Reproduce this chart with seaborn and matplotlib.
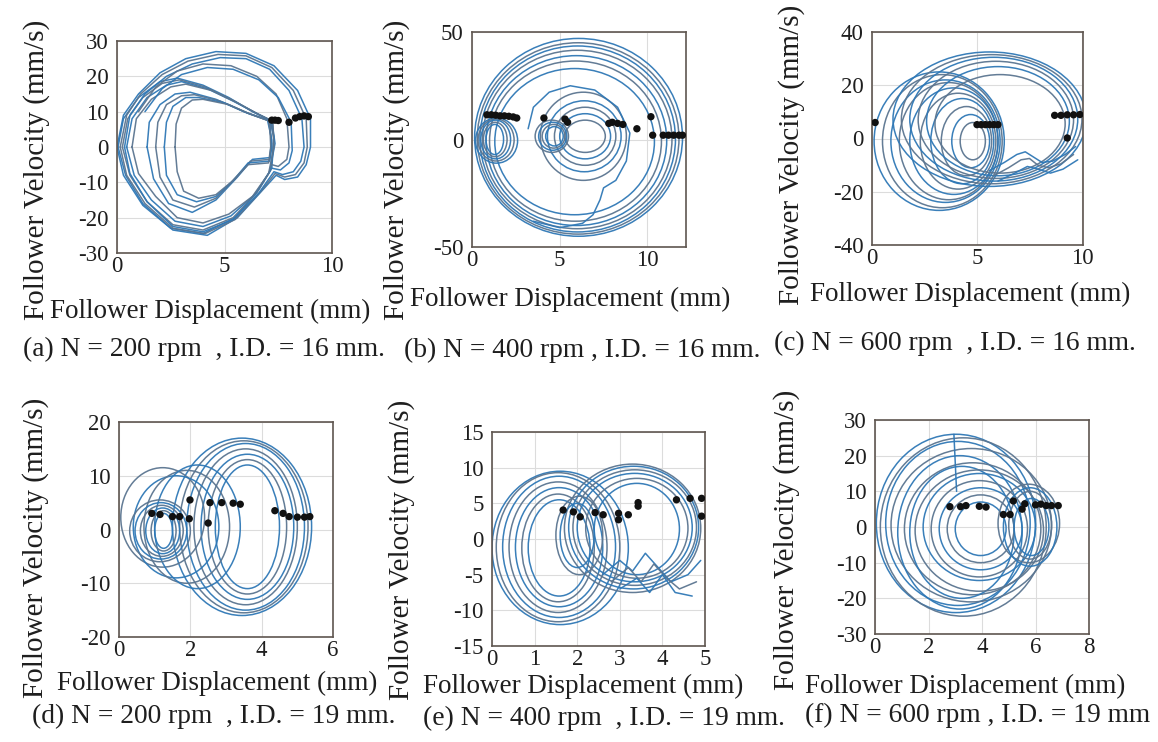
import numpy as np
import pandas as pd
import matplotlib
matplotlib.use("Agg")
import matplotlib.pyplot as plt
from matplotlib.patches import Ellipse
import seaborn as sns

# ---------------- data ----------------
# Loops given by their extents (x_min, x_max, y_min, y_max)
a_dots_x = [7.2, 7.35, 7.5, 8.0, 8.3, 8.5, 8.7, 8.9]
a_dots_y = [7.6, 7.6, 7.5, 7.0, 8.2, 8.6, 8.8, 8.6]
a_paths = [
    [(0.05,0),(0.3,8),(1.0,14),(2.0,18.5),(2.8,19.5),(4.0,17.5),(5.2,14),(6.3,10),(7.1,7.6),(7.3,3),(7.2,-6),(6.6,-12),(5.5,-20),(4.0,-24.5),(2.5,-23),(1.2,-16),(0.4,-8),(0.05,0)],
    [(0.25,0),(0.5,8),(1.2,14),(2.1,18),(2.9,19),(4.1,17),(5.3,13.5),(6.4,9.8),(7.15,7.5),(7.3,2),(7.15,-6.5),(6.5,-13),(5.4,-20),(4.0,-23.5),(2.6,-22),(1.4,-15.5),(0.6,-8),(0.25,0)],
    [(0.45,0),(0.7,8),(1.4,14),(2.3,17.5),(3.0,18.5),(4.2,16.5),(5.4,13),(6.5,9.5),(7.2,7.4),(7.35,1),(7.1,-7),(6.4,-13.5),(5.3,-19.5),(4.0,-22.5),(2.7,-21),(1.6,-15),(0.8,-8),(0.45,0)],
    [(0.7,0),(0.9,8),(1.6,13.5),(2.5,17),(3.2,17.8),(4.4,16),(5.6,12.5),(6.6,9.2),(7.25,7.3),(7.3,0),(7.05,-7.5),(6.3,-14),(5.2,-19),(4.0,-21.5),(2.8,-20),(1.8,-14),(1.0,-7.5),(0.7,0)],
    [(1.4,0),(1.5,7),(2.0,12),(2.7,15),(3.4,15.5),(4.6,13.5),(5.9,10),(7.0,7.6),(7.2,2),(7.1,-3),(6.3,-3.5),(5.6,-8.5),(4.6,-15),(3.5,-18.5),(2.4,-16),(1.7,-9),(1.4,0)],
    [(1.8,0),(1.9,7),(2.3,12),(3.0,14.5),(3.6,14.8),(4.8,13),(6.0,9.8),(7.05,7.5),(7.2,1),(7.1,-3.5),(6.2,-4),(5.5,-9),(4.6,-14.5),(3.6,-17),(2.6,-15),(2.0,-8.5),(1.8,0)],
    [(2.2,0),(2.3,7),(2.6,11.5),(3.2,14),(3.8,14),(5.0,12.5),(6.1,9.5),(7.1,7.4),(7.2,0),(7.1,-4),(6.1,-4.5),(5.4,-9.5),(4.6,-14),(3.7,-15.5),(2.8,-13.5),(2.3,-8),(2.2,0)],
    [(2.7,0),(2.75,6.5),(3.0,11),(3.5,13.3),(4.0,13.5),(5.2,12),(6.2,9.3),(7.1,7.3),(7.15,0),(7.05,-4.5),(6.1,-5),(5.3,-10),(4.6,-13.5),(3.8,-14.5),(3.1,-12.5),(2.8,-7),(2.7,0)],
    [(0.0,0),(0.3,9),(1.0,15),(2.0,21),(3.2,25),(4.6,27),(6.0,26.5),(7.3,23),(8.4,16),(9.0,8),(9.0,0),(8.8,-5),(8.4,-8.5),(7.8,-9.2),(7.4,-8),(6.8,-12),(5.6,-20),(4.2,-25),(2.6,-23.5),(1.2,-16.5),(0.3,-8),(0.0,0)],
    [(0.15,0),(0.45,9),(1.1,15),(2.1,20.5),(3.3,24.3),(4.7,26.2),(6.0,25.8),(7.2,22.5),(8.2,16),(8.8,8),(8.85,0),(8.7,-4.5),(8.3,-7.8),(7.8,-8.5),(7.35,-7.5),(6.7,-12.5),(5.5,-20.5),(4.1,-24.5),(2.6,-23),(1.3,-16),(0.45,-8),(0.15,0)],
    [(0.35,0),(0.6,9),(1.3,15),(2.3,20),(3.5,23.5),(4.8,25.3),(6.0,25),(7.1,22),(8.0,16),(8.6,8),(8.7,0),(8.55,-4),(8.2,-7),(7.7,-7.8),(7.3,-7),(6.6,-13),(5.4,-20.5),(4.0,-24),(2.6,-22.5),(1.4,-15.5),(0.6,-7.5),(0.35,0)],
    [(1.0,10),(1.8,17),(2.8,21.5),(4.0,23.5),(5.3,23),(6.5,20),(7.4,15),(7.9,8),(8.0,0),(7.9,-3.5),(7.5,-5.5),(7.2,-5)],
    [(1.3,10),(2.1,16.5),(3.0,20.5),(4.2,22.5),(5.4,22),(6.6,19),(7.5,14),(8.1,7),(8.15,-1),(8.0,-4.5),(7.6,-6.5),(7.2,-6)],
]
a_loops = []

b_dots_x = [0.85, 1.1, 1.35, 1.6, 1.85, 2.1, 2.35, 2.55, 4.1, 5.3, 5.45, 7.8, 8.0, 8.3, 8.6, 9.4, 10.2, 10.3, 10.9, 11.2, 11.5, 11.8, 12.0]
b_dots_y = [11.5, 11.5, 11.3, 11.0, 11.0, 10.8, 10.5, 10.0, 10.0, 9.5, 8.0, 7.5, 8.0, 7.5, 7.0, 5.0, 10.6, 2.0, 2.0, 2.0, 2.0, 2.0, 2.0]
b_loops = [
    # big outer loops
    (0.15, 12.0, -45, 47), (0.3, 11.8, -44, 45), (0.45, 11.6, -43, 43.5), (0.6, 11.4, -41.5, 41.5),
    (0.8, 11.1, -40, 39), (1.0, 10.8, -38, 36.5), (1.3, 10.4, -35, 33),
    # central loops
    (5.3, 7.6, -6, 9), (5.0, 7.9, -9, 12), (4.7, 8.2, -12, 15), (4.3, 8.5, -15, 18), (3.9, 8.8, -19, 22),
    # left small loops
    (0.2, 2.6, -11, 10), (0.35, 2.4, -10, 9.5), (0.5, 2.2, -9, 9), (0.65, 2.0, -8, 8), (0.8, 1.8, -7, 7),
    # middle small loops
    (3.6, 5.5, -6, 9), (3.8, 5.4, -5, 8), (4.0, 5.3, -4, 7), (4.2, 5.2, -3, 6),
]
b_paths = [
    [(3.2,5),(3.5,15),(4.4,22),(5.6,25),(7.0,23),(8.3,15),(9.0,3),(8.8,-10),(8.2,-19),(7.5,-22.5),(7.3,-28),(6.9,-35),(6.3,-39),(5.0,-41),(3.5,-38)],
]

c_dots_x = [0.15, 5.0, 5.2, 5.4, 5.6, 5.8, 6.0, 8.7, 9.0, 9.3, 9.6, 9.9, 9.3]
c_dots_y = [6.0, 5.2, 5.2, 5.2, 5.2, 5.2, 5.2, 8.7, 8.7, 8.9, 8.9, 9.0, 0.2]
c_loops = [
    # left family
    (0.1, 6.3, -27, 25), (0.5, 6.2, -26, 24), (0.9, 6.1, -24, 22), (1.3, 6.0, -23, 21), (1.8, 6.0, -21, 19),
    (2.3, 5.9, -19, 17), (2.8, 5.8, -17, 15), (3.3, 5.7, -14, 12), (3.8, 5.6, -11, 9), (4.2, 5.4, -8, 6),
    # right family
    (1.0, 10.2, -18, 32.5), (1.4, 10.0, -17, 31.5), (1.8, 9.8, -16, 30.5), (2.2, 9.6, -15, 29),
    (2.6, 9.4, -14, 27), (3.0, 9.2, -13, 24),
]
c_paths = [
    [(5.6,-12),(6.3,-9),(6.9,-6),(7.3,-5),(7.7,-7),(8.1,-9),(8.6,-8.5),(9.2,-6),(9.7,-3)],
    [(5.8,-14),(6.5,-11),(7.1,-8),(7.5,-7.5),(7.9,-10),(8.4,-11),(9.0,-9.5),(9.6,-6)],
    [(6.0,-16),(6.8,-13),(7.4,-10.5),(7.9,-11.5),(8.5,-13),(9.1,-11.5),(9.8,-8)],
]

d_dots_x = [0.92, 1.15, 1.5, 1.7, 1.97, 2.5, 1.99, 2.55, 2.88, 3.2, 3.4, 4.37, 4.6, 4.77, 5.0, 5.2, 5.35]
d_dots_y = [3.0, 2.8, 2.4, 2.4, 2.0, 1.2, 5.5, 5.0, 5.0, 4.9, 4.7, 3.5, 3.0, 2.4, 2.3, 2.3, 2.4]
d_loops = [
    # big right loops
    (1.5, 5.4, -16, 17), (1.7, 5.3, -15.5, 16.5), (1.9, 5.2, -15, 16), (2.1, 5.0, -14, 15),
    (2.3, 4.9, -13, 14), (2.5, 4.7, -12, 13), (2.7, 4.5, -11, 12),
    # middle loops
    (0.05, 2.4, -7, 11.5), (0.4, 2.8, -9, 10), (0.7, 3.1, -10, 11), (1.0, 3.4, -11, 12),
    # dense small loops
    (0.3, 2.0, -6, 5.5), (0.45, 1.9, -5.5, 5), (0.6, 1.8, -5, 4.5), (0.75, 1.7, -4.5, 4),
    (0.9, 1.6, -4, 3.5), (1.0, 1.5, -3.5, 3),
]
d_paths = []

e_dots_x = [1.67, 1.91, 2.07, 2.42, 2.61, 2.97, 3.2, 2.97, 3.43, 3.43, 4.33, 4.65, 4.92, 4.92]
e_dots_y = [4.06, 3.8, 3.1, 3.7, 3.4, 3.6, 3.4, 2.7, 5.1, 4.6, 5.5, 5.7, 5.7, 3.2]
e_loops = [
    # left family
    (0.0, 3.2, -12, 9.5), (0.1, 3.0, -11.6, 9.3), (0.25, 2.9, -11, 8.8), (0.4, 2.7, -10.3, 8.0),
    (0.55, 2.6, -9.5, 7.2), (0.7, 2.4, -8.8, 6.3), (0.85, 2.3, -8, 5.5),
    # right family
    (1.7, 4.9, -7.5, 10.5), (1.8, 4.85, -7, 10.2), (1.9, 4.8, -6.5, 9.7), (2.0, 4.7, -6, 9.2),
    (2.2, 4.6, -5.5, 8.5), (2.4, 4.4, -5, 7.8),
    # inner small loops
    (1.5, 2.6, -5, 6), (1.6, 2.4, -4, 5),
]
e_paths = [
    [(2.6,-5),(3.0,-3),(3.3,-4.5),(3.6,-2),(3.9,-4),(4.2,-6),(4.6,-5),(4.9,-3)],
    [(2.8,-6),(3.2,-4),(3.5,-6),(3.8,-3.5),(4.1,-5.5),(4.4,-7),(4.8,-6)],
    [(3.0,-7),(3.4,-5.5),(3.7,-7.5),(4.0,-5),(4.3,-7.5),(4.7,-8)],
]

f_dots_x = [2.8, 3.2, 3.4, 3.9, 4.15, 4.8, 5.05, 5.17, 5.5, 5.6, 6.0, 6.2, 6.4, 6.6, 6.85]
f_dots_y = [5.7, 5.7, 6.0, 5.8, 5.6, 3.5, 3.5, 7.3, 5.0, 6.5, 6.2, 6.4, 6.0, 6.0, 6.0]
f_loops = [
    # big loops
    (0.05, 6.0, -24, 26), (0.2, 6.4, -25, 25), (0.4, 5.8, -22, 24), (0.6, 6.6, -21, 22),
    (0.85, 5.5, -23, 20), (1.1, 6.2, -19, 18), (1.3, 5.2, -20, 17),
    # medium loops
    (1.5, 6.3, -18, 16), (1.8, 6.0, -15, 15), (2.1, 5.7, -14, 13), (2.4, 5.5, -12, 11),
    (2.7, 5.2, -10, 9), (3.0, 4.9, -8, 7),
    # right small loops
    (4.6, 6.9, -10, 12), (4.8, 6.8, -11, 11), (5.0, 6.6, -9, 10), (5.2, 6.5, -8, 8),
]
f_paths = [
    [(2.95,26),(3.0,18),(3.05,10)],
]

titles = [
    "(a) N = 200 rpm  , I.D. = 16 mm.",
    "(b) N = 400 rpm , I.D. = 16 mm.",
    "(c) N = 600 rpm  , I.D. = 16 mm.",
    "(d) N = 200 rpm  , I.D. = 19 mm.",
    "(e) N = 400 rpm  , I.D. = 19 mm.",
    "(f) N = 600 rpm , I.D. = 19 mm",
]
x_label = "Follower Displacement (mm)"
y_label = "Follower Velocity (mm/s)"

xlims = [(0, 10), (0, 12.2), (0, 10.05), (0, 6), (0, 5), (0, 8)]
ylims = [(-30, 30), (-50, 50), (-40, 40), (-20, 20), (-15, 15), (-30, 30)]
xticks = [[0, 5, 10], [0, 5, 10], [0, 5, 10], [0, 2, 4, 6], [0, 1, 2, 3, 4, 5], [0, 2, 4, 6, 8]]
yticks = [list(range(-30, 31, 10)), [-50, 0, 50], list(range(-40, 41, 20)),
          list(range(-20, 21, 10)), list(range(-15, 16, 5)), list(range(-30, 31, 10))]

# ---------------- figure ----------------
sns.set_theme(style="whitegrid")
plt.rcParams['font.family'] = ['Liberation Serif', 'DejaVu Serif']
plt.rcParams['axes.unicode_minus'] = False

W, H = 1158, 742
fig = plt.figure(figsize=(W / 100, H / 100), dpi=100)
fig.patch.set_facecolor("white")

# axes boxes in pixels (left, top, right, bottom)
boxes = [(117, 41, 332, 253), (472, 32, 686, 247), (872, 32, 1083, 245),
         (119, 422, 333, 637), (492, 432, 705, 646), (875, 420, 1089, 634)]
ylab_pos = [(37, 170), (397, 170), (792, 155), (36, 548), (402, 550), (787, 540)]
xlab_pos = [(210, 311), (570, 299), (970, 294), (217, 683), (583, 686), (965, 686)]
cap_pos = [(204, 349), (582, 350), (955, 343), (214, 716), (604, 718), (978, 715)]

all_loops = [a_loops, b_loops, c_loops, d_loops, e_loops, f_loops]
all_paths = [a_paths, b_paths, c_paths, d_paths, e_paths, f_paths]
all_dx = [a_dots_x, b_dots_x, c_dots_x, d_dots_x, e_dots_x, f_dots_x]
all_dy = [a_dots_y, b_dots_y, c_dots_y, d_dots_y, e_dots_y, f_dots_y]

line_cols = ["#2f78b6", "#5b7590"]
TXT = "#1e1e1e"

for i in range(6):
    l, t, r, b = boxes[i]
    ax = fig.add_axes([l / W, 1 - b / H, (r - l) / W, (b - t) / H])
    ax.set_facecolor("white")
    # loops
    for k, (x0, x1, y0, y1) in enumerate(all_loops[i]):
        e = Ellipse(((x0 + x1) / 2, (y0 + y1) / 2), x1 - x0, y1 - y0,
                    fill=False, lw=1.1, ec=line_cols[k % 2], alpha=0.95, zorder=2)
        ax.add_patch(e)
    for k, path in enumerate(all_paths[i]):
        df = pd.DataFrame(path, columns=["x", "y"])
        sns.lineplot(data=df, x="x", y="y", sort=False, estimator=None, ax=ax,
                     color=line_cols[k % 2], lw=1.1, alpha=0.95, zorder=2)
    sns.scatterplot(x=all_dx[i], y=all_dy[i], ax=ax, color="#111111", s=28,
                    edgecolor="none", zorder=4)
    ax.set_xlim(*xlims[i])
    ax.set_ylim(*ylims[i])
    ax.set_xticks(xticks[i])
    ax.set_yticks(yticks[i])
    ax.grid(True, color="#dcdcdc", lw=0.8)
    ax.set_axisbelow(True)
    for s in ax.spines.values():
        s.set_color("#5f5650")
        s.set_linewidth(1.2)
    ax.tick_params(axis="both", direction="in", length=3, color="#5f5650",
                   labelsize=16.5, labelcolor=TXT, pad=2)
    ax.tick_params(axis="y", pad=6)
    ax.set_xlabel("")
    ax.set_ylabel("")
    fig.text(xlab_pos[i][0] / W, 1 - xlab_pos[i][1] / H, x_label, ha="center",
             va="center", fontsize=19.5, color=TXT)
    fig.text(ylab_pos[i][0] / W, 1 - ylab_pos[i][1] / H, y_label, ha="center",
             va="center", rotation=90, fontsize=21, color=TXT)
    fig.text(cap_pos[i][0] / W, 1 - cap_pos[i][1] / H, titles[i], ha="center",
             va="center", fontsize=19.8, color=TXT)

fig.savefig("out.png", dpi=100, facecolor="white")
